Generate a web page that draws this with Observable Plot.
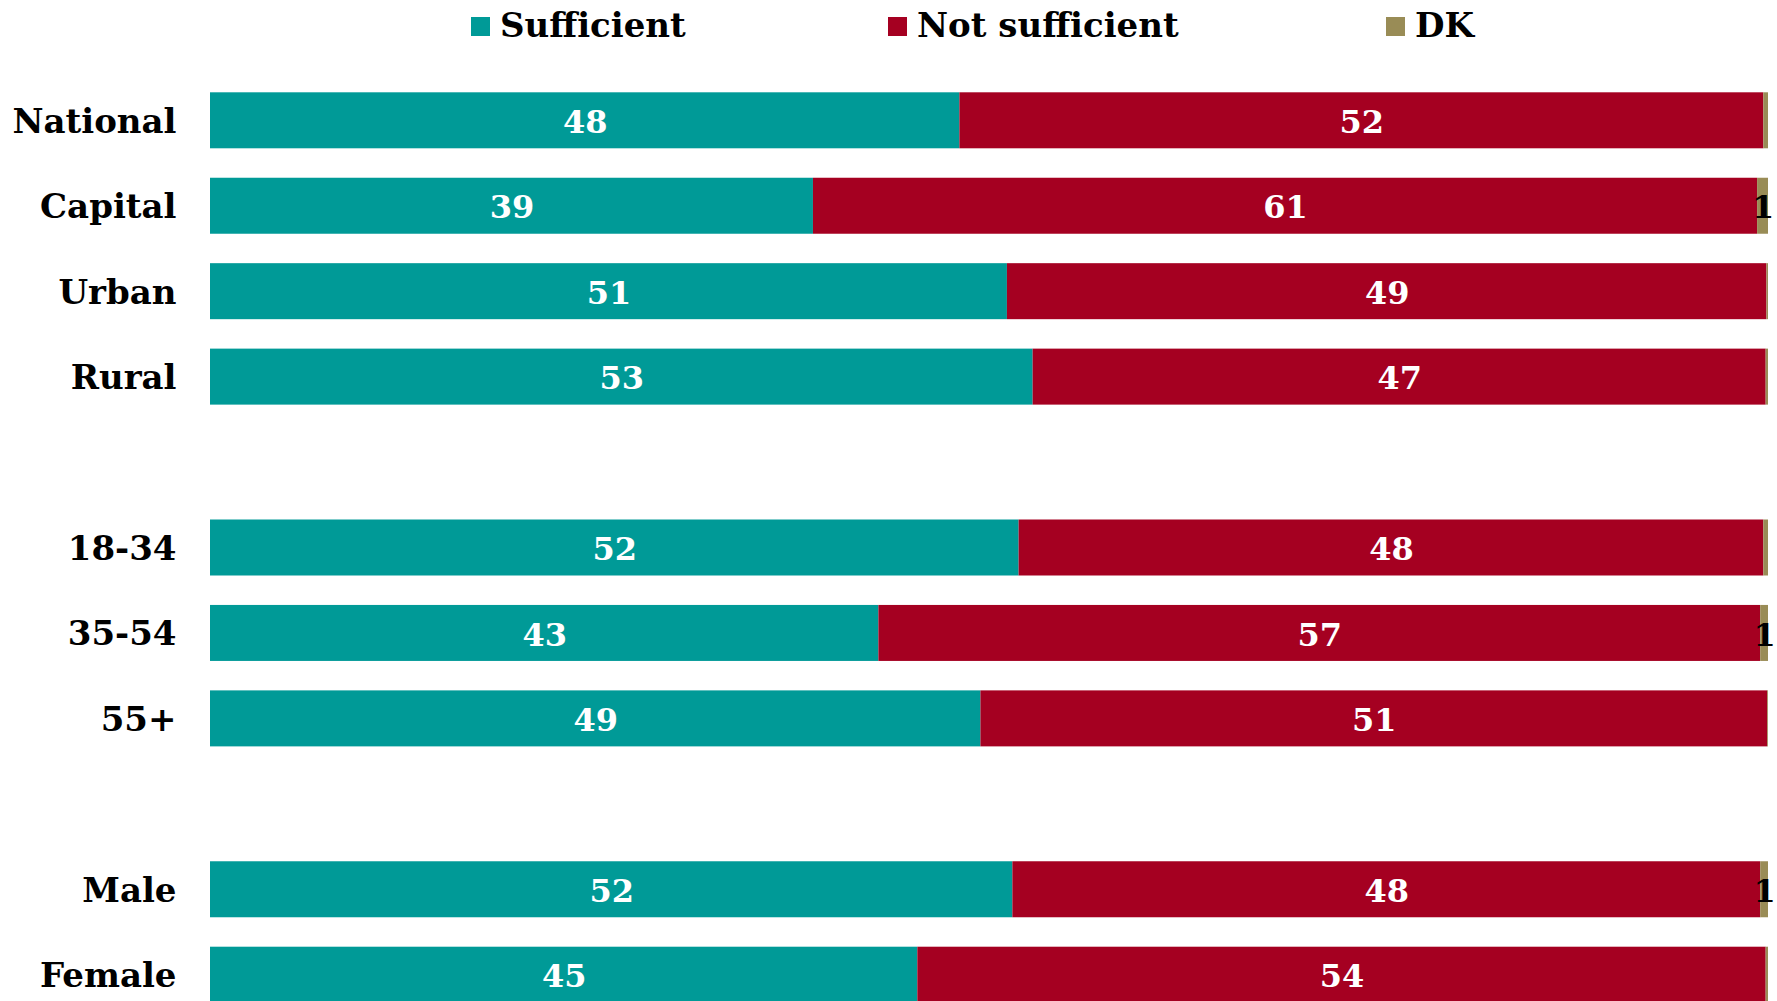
<!DOCTYPE html>
<html>
<head>
<meta charset="utf-8">
<script src="https://cdn.jsdelivr.net/npm/d3@7"></script>
<script src="https://cdn.jsdelivr.net/npm/@observablehq/plot@0.6"></script>
<style>
  html, body { margin: 0; padding: 0; background: #fff; }
  body { width: 1777px; height: 1001px; overflow: hidden; font-family: "DejaVu Serif", serif; }
  #legend { position: relative; height: 45px; width: 1777px; }
  .item { position: absolute; top: 2px; height: 45px; display: flex; align-items: center; font-weight: bold; font-size: 34px; color: #000; }
  .sw { width: 19px; height: 19px; margin-right: 10px; margin-top: 4px; }
  #chart svg { display: block; }
</style>
</head>
<body>
<div id="legend"></div>
<div id="chart"></div>
<script>
const categories = ["National", "Capital", "Urban", "Rural", "gap1", "18-34", "35-54", "55+", "gap2", "Male", "Female"];
const sufficient    = [48.1, 38.7, 51.15, 52.8, null, 51.9, 42.9, 49.45, null, 51.5, 45.4];
const notSufficient = [51.6, 60.6, 48.75, 47.05, null, 47.8, 56.6, 50.5, null, 48.0, 54.45];
const dk            = [0.3, 0.7, 0.1, 0.15, null, 0.3, 0.5, 0.05, null, 0.5, 0.15];
const seriesNames = ["Sufficient", "Not sufficient", "DK"];
const seriesColors = ["#009a97", "#a50021", "#998c56"];
const legendLeft = [471, 888, 1386];

const rows = [];
categories.forEach((c, i) => {
  if (sufficient[i] == null) return;
  [sufficient[i], notSufficient[i], dk[i]].forEach((v, j) => {
    rows.push({group: c, series: seriesNames[j], value: v});
  });
});

const legend = document.getElementById("legend");
seriesNames.forEach((s, j) => {
  const it = document.createElement("div");
  it.className = "item";
  it.style.left = legendLeft[j] + "px";
  it.innerHTML = `<span class="sw" style="background:${seriesColors[j]}"></span><span>${s}</span>`;
  legend.appendChild(it);
});

const labelText = d => {
  const r = Math.round(d.value);
  return r >= 1 ? String(r) : "";
};

const chart = Plot.plot({
  width: 1777,
  height: 956,
  marginLeft: 210,
  marginRight: 9,
  marginTop: 0,
  marginBottom: 0,
  style: {fontFamily: "DejaVu Serif, serif", background: "#fff", overflow: "visible"},
  x: {axis: null, domain: [0, 1]},
  y: {domain: categories, range: [47.3, 957.7], paddingInner: 0.3446, paddingOuter: 0, round: false, label: null},
  color: {domain: seriesNames, range: seriesColors},
  marks: [
    Plot.barX(rows, Plot.stackX({offset: "normalize", order: seriesNames, x: "value", y: "group", z: "series", fill: "series"})),
    Plot.text(rows, Plot.stackX({
      offset: "normalize", order: seriesNames, x: "value", y: "group", z: "series",
      text: labelText,
      fill: d => d.series === "DK" ? "#000" : "#fff",
      fontSize: 32, fontWeight: "bold", dy: 2
    })),
    Plot.axisY({
      tickSize: 0, tickPadding: 34, fontSize: 34, fontWeight: "bold", dy: 1,
      tickFormat: d => d.startsWith("gap") ? "" : d, fill: "#000"
    })
  ]
});
document.getElementById("chart").appendChild(chart);
</script>
</body>
</html>
